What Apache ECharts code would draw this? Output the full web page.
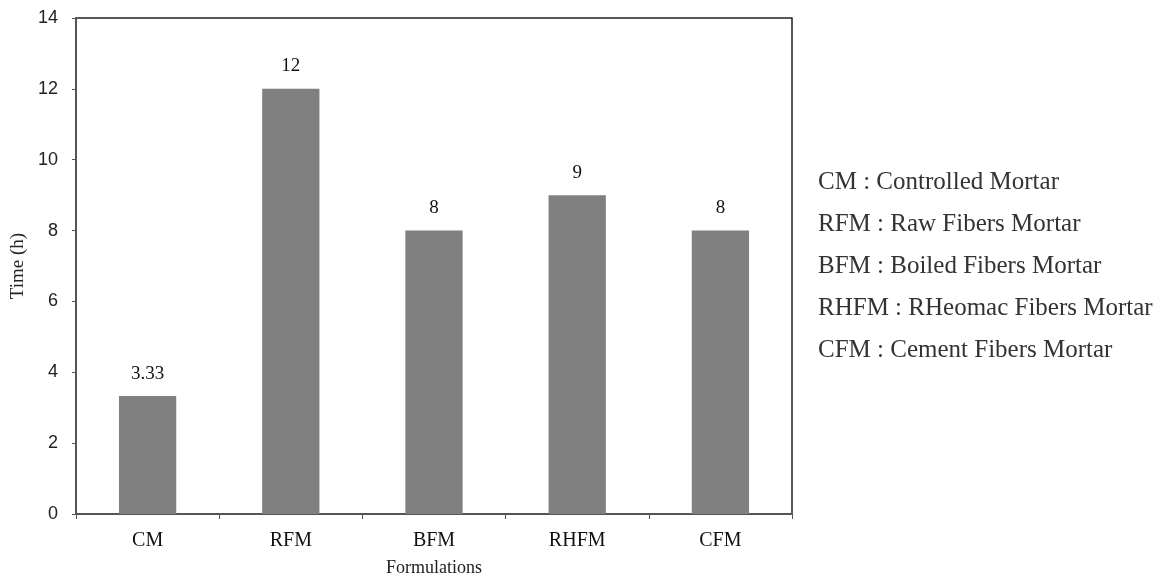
<!DOCTYPE html>
<html>
<head>
<meta charset="utf-8">
<script src="https://cdn.jsdelivr.net/npm/echarts@6/dist/echarts.min.js"></script>
<style>
  html, body { margin: 0; padding: 0; background: #fff; }
  #chart { width: 1176px; height: 580px; }
</style>
</head>
<body>
<div id="chart"></div>
<script>
const categories = ['CM', 'RFM', 'BFM', 'RHFM', 'CFM'];
const timeValues = [3.33, 12, 8, 9, 8];
const valueLabels = ['3.33', '12', '8', '9', '8'];
const yTicks = [0, 2, 4, 6, 8, 10, 12, 14];
const notes = [
	'CM : Controlled Mortar',
	'RFM : Raw Fibers Mortar',
	'BFM : Boiled Fibers Mortar',
	'RHFM : RHeomac Fibers Mortar',
	'CFM : Cement Fibers Mortar',
];

const serif = '"Liberation Serif", "DejaVu Serif", serif';
const sans = '"Liberation Sans", Arial, sans-serif';

const myChart = echarts.init(document.getElementById('chart'), null, { renderer: 'canvas' });

const option = {
	backgroundColor: '#fff',
	animation: false,
	grid: {
		left: 76,
		right: 384,
		top: 18,
		bottom: 66,
		containLabel: false,
		outerBoundsMode: 'none',
		show: true,
		borderColor: '#222',
		borderWidth: 1.5,
	},
	xAxis: {
		type: 'category',
		data: categories,
		name: 'Formulations',
		nameLocation: 'middle',
		nameGap: 45,
		nameTextStyle: { fontFamily: serif, fontSize: 18, color: '#222' },
		axisLine: { lineStyle: { color: '#555', width: 2 } },
		axisTick: { show: true, alignWithLabel: false, length: 5, lineStyle: { color: '#555' } },
		axisLabel: { fontFamily: serif, fontSize: 20, color: '#111', margin: 17 },
	},
	yAxis: {
		type: 'value',
		min: yTicks[0],
		max: yTicks[yTicks.length - 1],
		interval: 2,
		name: 'Time (h)',
		nameLocation: 'middle',
		nameGap: 48,
		nameTextStyle: { fontFamily: serif, fontSize: 19, color: '#222' },
		axisLine: { show: true, lineStyle: { color: '#555', width: 2 } },
		axisTick: { show: true, length: 4, lineStyle: { color: '#555' } },
		splitLine: { show: false },
		axisLabel: { fontFamily: sans, fontSize: 18, color: '#222', margin: 18 },
	},
	series: [
		{
			type: 'bar',
			data: timeValues,
			barWidth: '40%',
			itemStyle: { color: '#808080' },
			label: {
				show: true,
				position: 'top',
				distance: 13,
				fontFamily: serif,
				fontSize: 19,
				color: '#111',
				formatter: (p) => valueLabels[p.dataIndex],
			},
		},
	],
	graphic: notes.map((t, i) => ({
		type: 'text',
		x: 818,
		y: 182 + i * 42,
		style: { text: t, fontFamily: serif, fontSize: 25, fill: '#333', textVerticalAlign: 'middle' },
	})),
};

myChart.setOption(option);
</script>
</body>
</html>
